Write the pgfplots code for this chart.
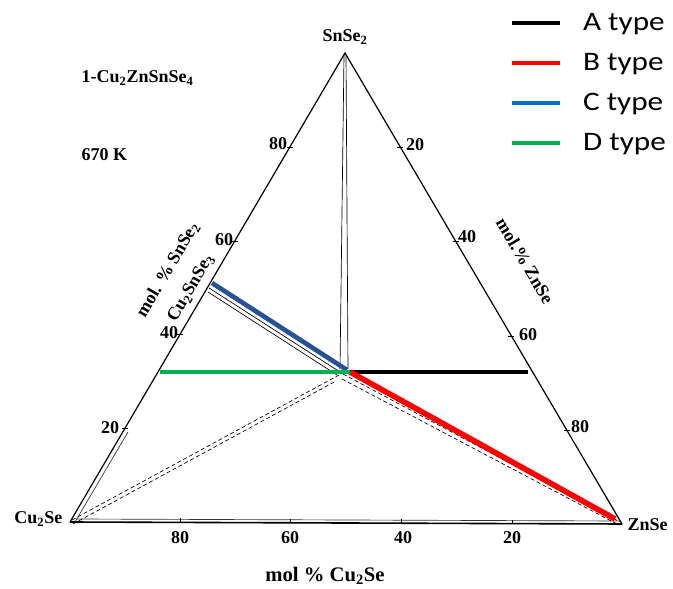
\documentclass[border=0pt]{standalone}
\usepackage{fontspec}
\setmainfont{Liberation Serif}
\newfontfamily\legendfont{Carlito}
\usepackage{graphicx}
\usepackage{pgfplots}
\pgfplotsset{compat=1.18}

\definecolor{typeA}{RGB}{0,0,0}
\definecolor{typeB}{RGB}{255,0,0}
\definecolor{typeC}{RGB}{40,82,150}
\definecolor{typeCleg}{RGB}{0,112,192}
\definecolor{typeD}{RGB}{0,176,80}

\newcommand{\legtext}[1]{\scalebox{1.17}[1]{#1}}

\begin{document}
\begin{tikzpicture}[lbl/.style={font=\bfseries\fontsize{13.5}{15}\selectfont, inner sep=1pt}]
\begin{axis}[
  scale only axis, width=504.75pt, height=441pt,
  xmin=0, xmax=673, ymin=0, ymax=588,
  hide axis, clip=false,
  legend style={at={(axis description cs:0.758,0.982)}, anchor=north west,
    draw=none, fill=none, inner sep=0pt,
    font=\legendfont\fontsize{20}{22}\selectfont,
    row sep=11.5pt, cells={anchor=west}},
  legend image code/.code={\draw[#1] (0pt,0pt) -- (36pt,0pt); \path[draw=none] (0pt,0pt) -- (51pt,0pt);},
]
% triangle frame: Cu2Se (left), ZnSe (right), SnSe2 (top)
\addplot[black, line width=0.9pt, forget plot] coordinates {(70,66) (345,535) (622,64)};
\addplot[black, line width=1.2pt, forget plot] coordinates {(70,66) (622,64)};
\addplot[black!80, line width=0.5pt, forget plot] coordinates {(76,69) (620,67)};
\addplot[black!80, line width=0.5pt, forget plot] coordinates {(75,66) (128,156)};

% tie lines through the quaternary compound
\addplot[black, line width=0.5pt, forget plot] coordinates {(344,533) (340,219)};
\addplot[black, line width=0.5pt, forget plot] coordinates {(346,533) (348,219)};
\addplot[black, line width=0.5pt, densely dashed, forget plot] coordinates {(72,68) (339,213)};
\addplot[black, line width=0.5pt, densely dashed, forget plot] coordinates {(73,64) (336,207)};
\addplot[black, line width=0.5pt, forget plot] coordinates {(209,300) (340,216)};
\addplot[black, line width=0.5pt, forget plot] coordinates {(208,296) (337,213)};
\addplot[black, line width=0.5pt, densely dashed, forget plot] coordinates {(343,214) (620,66)};
\addplot[black, line width=0.5pt, densely dashed, forget plot] coordinates {(342,209) (617,64)};

% edge ticks
\addplot[black, line width=0.6pt, forget plot] coordinates {(122,160) (128,160)};
\addplot[black, line width=0.6pt, forget plot] coordinates {(177,254) (183,254)};
\addplot[black, line width=0.6pt, forget plot] coordinates {(232,347) (238,347)};
\addplot[black, line width=0.6pt, forget plot] coordinates {(287,441) (293,441)};
\addplot[black, line width=0.6pt, forget plot] coordinates {(397,441) (403,441)};
\addplot[black, line width=0.6pt, forget plot] coordinates {(453,347) (459,347)};
\addplot[black, line width=0.6pt, forget plot] coordinates {(508,252) (514,252)};
\addplot[black, line width=0.6pt, forget plot] coordinates {(564,158) (570,158)};
\addplot[black, line width=0.6pt, forget plot] coordinates {(180,66) (180,70)};
\addplot[black, line width=0.6pt, forget plot] coordinates {(290,65) (290,69)};
\addplot[black, line width=0.6pt, forget plot] coordinates {(401,65) (401,69)};
\addplot[black, line width=0.6pt, forget plot] coordinates {(512,64) (512,68)};

% highlighted paths
\addplot[typeA, line width=3.5pt, forget plot] coordinates {(350,216) (528,216)};
\addplot[typeB, line width=4.2pt, forget plot] coordinates {(350,216) (615,69)};
\addplot[typeC, line width=3.5pt, forget plot] coordinates {(212,305) (347,218)};
\addplot[typeD, line width=3.2pt, forget plot] coordinates {(160,216) (350,216)};

\addlegendimage{typeA, line width=3pt}\addlegendentry{\legtext{A type}}
\addlegendimage{typeB, line width=3pt}\addlegendentry{\legtext{B type}}
\addlegendimage{typeCleg, line width=3pt}\addlegendentry{\legtext{C type}}
\addlegendimage{typeD, line width=3pt}\addlegendentry{\legtext{D type}}

% vertex and composition labels
\node[lbl] at (axis cs:345,551) {SnSe\textsubscript{2}};
\node[lbl, anchor=east] at (axis cs:64,69) {Cu\textsubscript{2}Se};
\node[lbl, anchor=west] at (axis cs:626,63) {ZnSe};
\node[lbl, anchor=west] at (axis cs:80,510) {1-Cu\textsubscript{2}ZnSnSe\textsubscript{4}};
\node[lbl, anchor=west] at (axis cs:80,433) {670 K};
\node[lbl, rotate=59.6] at (axis cs:168,318) {mol. \% SnSe\textsubscript{2}};
\node[lbl, rotate=59.6] at (axis cs:191,300) {Cu\textsubscript{2}SnSe\textsubscript{3}};
\node[lbl, rotate=-59.5] at (axis cs:525,327) {mol.\% ZnSe};
\node[lbl, font=\bfseries\fontsize{15.5}{17}\selectfont] at (axis cs:325,12) {mol \% Cu\textsubscript{2}Se};

% tick labels
\node[lbl] at (axis cs:278,444) {80};
\node[lbl] at (axis cs:224,348) {60};
\node[lbl] at (axis cs:169,255) {40};
\node[lbl] at (axis cs:110,160) {20};
\node[lbl] at (axis cs:415,443) {20};
\node[lbl] at (axis cs:467,351) {40};
\node[lbl] at (axis cs:528,253) {60};
\node[lbl] at (axis cs:580,161) {80};
\node[lbl] at (axis cs:180,50) {80};
\node[lbl] at (axis cs:290,50) {60};
\node[lbl] at (axis cs:403,50) {40};
\node[lbl] at (axis cs:512,50) {20};
\end{axis}
\pgfresetboundingbox
\path (current axis.south west) rectangle (current axis.north east);
\end{tikzpicture}
\end{document}
